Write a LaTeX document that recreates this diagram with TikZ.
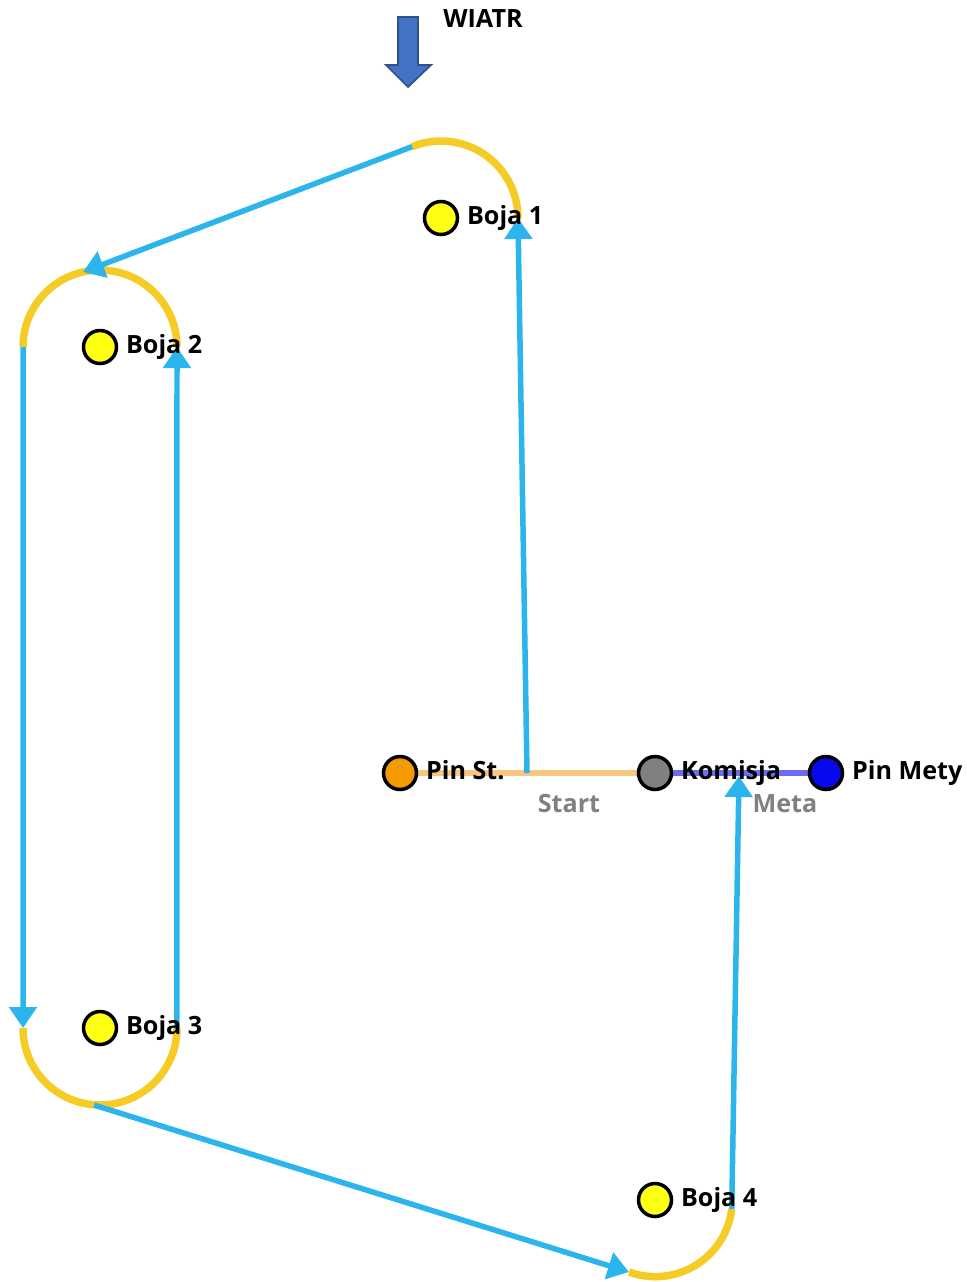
\documentclass[tikz,border=0pt]{standalone}
\usepackage{fontspec}
\setmainfont{Open Sans}
\usetikzlibrary{arrows.meta,positioning}
\definecolor{kurs}{HTML}{2BB5EC}
\definecolor{luk}{HTML}{F5CB25}
\definecolor{bojafill}{HTML}{FFFF14}
\definecolor{startfill}{HTML}{F39A00}
\definecolor{metafill}{HTML}{0808EE}
\definecolor{startline}{HTML}{F8C67C}
\definecolor{metaline}{HTML}{6C6CF0}
\definecolor{wind}{HTML}{4472C4}
\definecolor{windline}{HTML}{2F528F}
\begin{document}
\begin{tikzpicture}[x=0.02cm,y=-0.02cm,
    pin/.style={circle,draw=black,line width=2pt,minimum size=0.66cm,inner sep=0pt},
    txt/.style={font=\fontsize{14.3}{17}\selectfont\bfseries,inner sep=0pt,
      text height=0.714em,text depth=0pt},
    leg/.style={kurs,line width=0.11cm,-{Triangle[width=0.54cm,length=0.42cm]}},
    rounding/.style={luk,line width=0.15cm}]
  \useasboundingbox (0,0) rectangle (967,1282);
  % wiatr
  \filldraw[fill=wind,draw=windline,line width=1pt]
    (398,17) -- (418,17) -- (418,65) -- (431,65) -- (408,87) -- (386,65) -- (398,65) -- cycle;
  \node[txt] (wiatr) at (483,21) {WIATR};
  % punkty trasy
  \coordinate (ps) at (400,773);
  \coordinate (ko) at (655,773);
  \coordinate (pm) at (826,773);
  \coordinate (start) at (527,773);
  \coordinate (meta) at (739,776);
  \coordinate (b1in) at (518,218);
  \coordinate (b2r) at (177,347);
  \coordinate (b2top) at (83,272);
  \coordinate (b3l) at (23,1028);
  \coordinate (b3bot) at (94,1105);
  \coordinate (b4in) at (629,1272);
  % linia startu i mety
  \draw[startline,line width=0.12cm] (ps) -- (ko);
  \draw[metaline,line width=0.12cm] (ko) -- (pm);
  % okrazenia boi
  \draw[rounding] (b1in) arc[start angle=0,end angle=112,radius=1.54cm] coordinate (b1out);
  \draw[rounding] (b2r) arc[start angle=0,end angle=180,radius=1.54cm] coordinate (b2l);
  \draw[rounding] (b3l) arc[start angle=180,end angle=360,radius=1.54cm] coordinate (b3r);
  \draw[rounding] (b4in) arc[start angle=250,end angle=353,radius=1.54cm] coordinate (b4out);
  % trasa
  \begin{scope}[leg]
    \draw (start) -- (b1in);
    \draw (b1out) -- (b2top);
    \draw (b2l) -- (b3l);
    \draw (b3r) -- (b2r);
    \draw (b3bot) -- (b4in);
    \draw (b4out) -- (meta);
  \end{scope}
  % boje i znaki
  \draw
    (441,218) node[pin,fill=bojafill] (b1) {}
    (100,347) node[pin,fill=bojafill] (b2) {}
    (100,1028) node[pin,fill=bojafill] (b3) {}
    (655,1200) node[pin,fill=bojafill] (b4) {}
    (ps) node[pin,fill=startfill] (pinst) {}
    (ko) node[pin,fill=gray] (komisja) {}
    (pm) node[pin,fill=metafill] (pinmety) {};
  \node[txt,right=0.15cm of b1] (b1t) {Boja 1};
  \node[txt,right=0.15cm of b2] (b2t) {Boja 2};
  \node[txt,right=0.15cm of b3] (b3t) {Boja 3};
  \node[txt,right=0.15cm of b4] (b4t) {Boja 4};
  \node[txt,right=0.15cm of pinst] (pinstt) {Pin St.};
  \node[txt,right=0.15cm of komisja] (komisjat) {Komisja};
  \node[txt,right=0.15cm of pinmety] (pinmetyt) {Pin Mety};
  \node[txt,gray] (startt) at (569,806) {Start};
  \node[txt,gray] (metat) at (785,806) {Meta};
\end{tikzpicture}
\end{document}
